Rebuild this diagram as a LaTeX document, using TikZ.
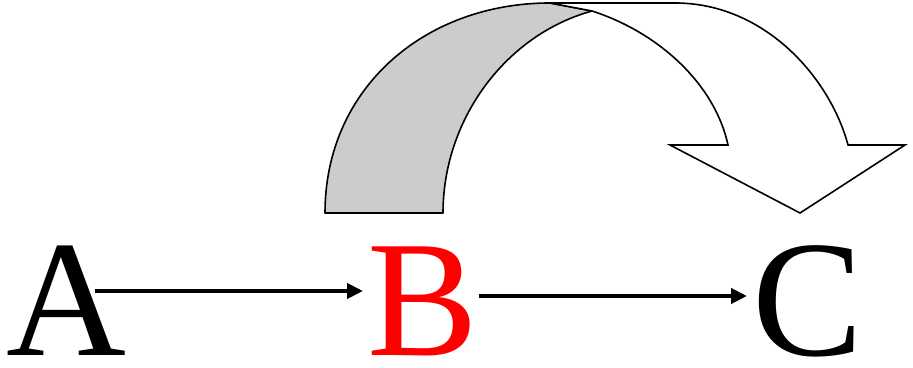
\documentclass[tikz,border=0pt]{standalone}
\usepackage{fontspec}
\setmainfont{Liberation Serif}
\usepackage{tikz}
\usetikzlibrary{arrows.meta,calc}
\tikzset{
  letter/.style={inner sep=0pt,anchor=base west,
                 font=\fontsize{83}{83}\selectfont},
  arr/.style={-{Triangle[length=8pt,width=7.5pt]},line width=2pt},
  bandback/.style={draw,fill=black!20,line width=0.8pt,line join=round},
  bandfront/.style={draw,fill=white,line width=0.8pt,line join=miter},
}
\begin{document}
\begin{tikzpicture}[x=0.5pt,y=0.5pt]
\useasboundingbox (0,0) rectangle (913,368);

% letters
\node[letter] (A) at (6,12) {A};
\node[letter,text=red] (B) at (367,12) {B};
\node[letter] (C) at (752,12) {C};

% straight arrows
\draw[arr] ($(A.base east)+(-32,65)$) -- ($(B.base west)+(-4,65)$);
\draw[arr] ($(B.base east)+(0,60)$) -- ($(C.base west)+(-5,60)$);

% curved arrow, back side (grey)
\draw[bandback] (325,155) .. controls (325,280) and (425,365) .. (550,365)
  -- (592,357) .. controls (505,333) and (443,248) .. (443,155) -- cycle;

% curved arrow, front side with head
\draw[bandfront] (550,365) -- (675,365)
  .. controls (765,365) and (830,290) .. (848,223)
  -- (905,223) -- (800,155) -- (670,223) -- (728,223)
  .. controls (715,283) and (660,335) .. (592,357) -- cycle;

\end{tikzpicture}
\end{document}
